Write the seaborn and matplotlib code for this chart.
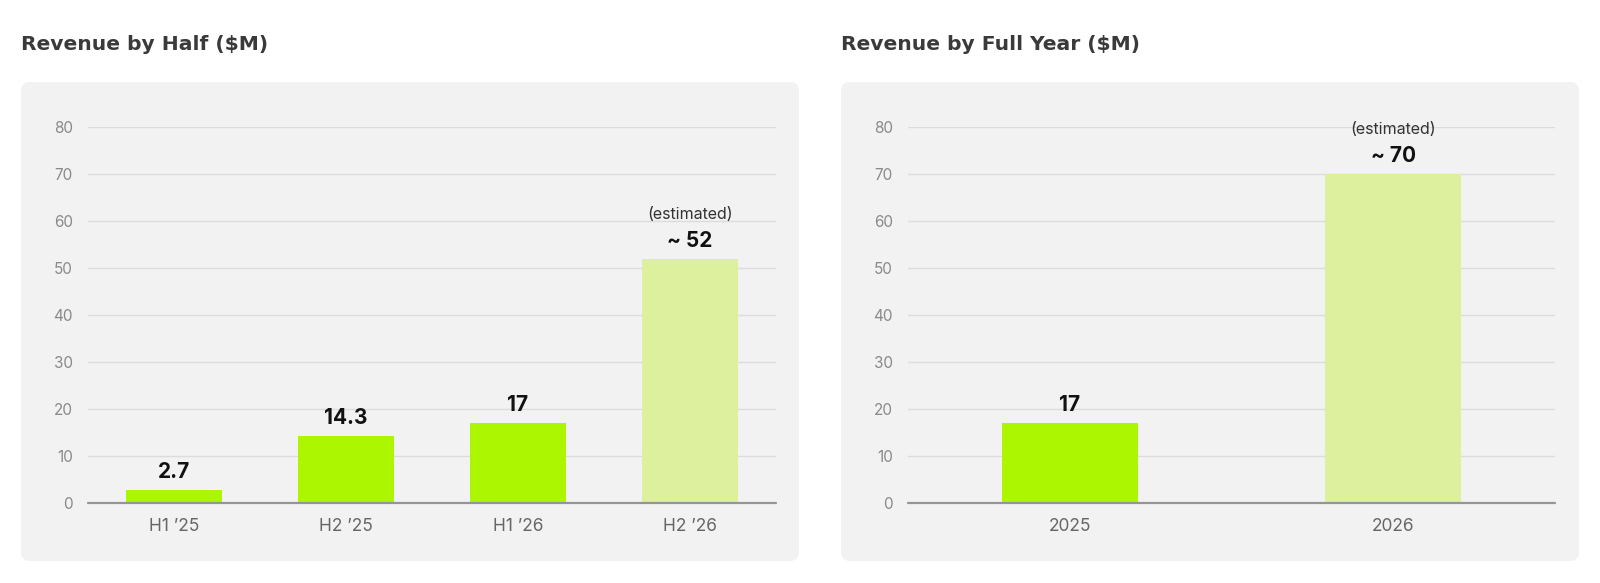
import matplotlib
matplotlib.use("Agg")
import matplotlib.pyplot as plt
from matplotlib.patches import FancyBboxPatch
import seaborn as sns

# data
half_labels = ["H1 \u201925", "H2 \u201925", "H1 \u201926", "H2 \u201926"]
half_values = [2.7, 14.3, 17, 52]
half_text = ["2.7", "14.3", "17", "~ 52"]
half_estimated = [False, False, False, True]

year_labels = ["2025", "2026"]
year_values = [17, 70]
year_text = ["17", "~ 70"]
year_estimated = [False, True]

y_ticks = [0, 10, 20, 30, 40, 50, 60, 70, 80]

ACTUAL = "#abf600"
ESTIM = "#dcf09e"

sns.set_theme(style="white")
plt.rcParams["font.family"] = ["Inter", "DejaVu Sans"]

fig = plt.figure(figsize=(16, 5.83), dpi=100)
W, H = 1600, 583

# rounded panel backgrounds (inches)
for x0, x1 in [(21, 799), (841, 1579)]:
    box = FancyBboxPatch((x0 / 100, 0.22), (x1 - x0) / 100, 4.79,
                         boxstyle="round,pad=0,rounding_size=0.09",
                         transform=fig.dpi_scale_trans,
                         facecolor="#f2f2f2", edgecolor="none", zorder=-5)
    fig.patches.append(box)

title_font = ["DejaVu Sans"]
fig.text(21 / W, 1 - 45 / H, "Revenue by Half ($M)", fontsize=14.6,
         fontweight="bold", color="#3a3a3a", va="center", ha="left",
         family=title_font)
fig.text(841 / W, 1 - 45 / H, "Revenue by Full Year ($M)", fontsize=14.6,
         fontweight="bold", color="#3a3a3a", va="center", ha="left",
         family=title_font)


def draw_panel(rect, labels, values, texts, estimated, width):
    ax = fig.add_axes(rect)
    ax.set_facecolor("none")
    colors = [ESTIM if e else ACTUAL for e in estimated]
    sns.barplot(x=labels, y=values, hue=labels, palette=colors,
                width=width, legend=False, saturation=1, linewidth=0,
                ax=ax, zorder=2)
    ax.set_ylim(0, 80)
    ax.set_xlim(-0.5, len(labels) - 0.5)
    ax.set_yticks(y_ticks)
    ax.yaxis.grid(True, color="#dcdcdc", lw=1)
    ax.set_axisbelow(True)
    ax.axhline(0, color="#959595", lw=1.6, zorder=3, clip_on=False)
    for s in ax.spines.values():
        s.set_visible(False)
    ax.tick_params(axis="y", length=0, pad=11, labelsize=11, labelcolor="#8a8a8a")
    ax.tick_params(axis="x", length=0, pad=11, labelsize=12.5, labelcolor="#666666")
    ax.set_xlabel("")
    ax.set_ylabel("")
    for i, (v, t, e) in enumerate(zip(values, texts, estimated)):
        ax.annotate(t, (i, v), xytext=(0, 13), textcoords="offset points",
                    ha="center", va="center", fontsize=15, fontweight="bold",
                    color="#111111", annotation_clip=False)
        if e:
            ax.annotate("(estimated)", (i, v), xytext=(0, 32),
                        textcoords="offset points", ha="center", va="center",
                        fontsize=11.5, color="#333333", annotation_clip=False)
    return ax


bottom = (H - 503) / H
height = 376 / H
draw_panel([88 / W, bottom, 688 / W, height], half_labels, half_values,
           half_text, half_estimated, 0.56)
draw_panel([908 / W, bottom, 647 / W, height], year_labels, year_values,
           year_text, year_estimated, 0.42)

fig.savefig("out.png", dpi=100, facecolor="white")
